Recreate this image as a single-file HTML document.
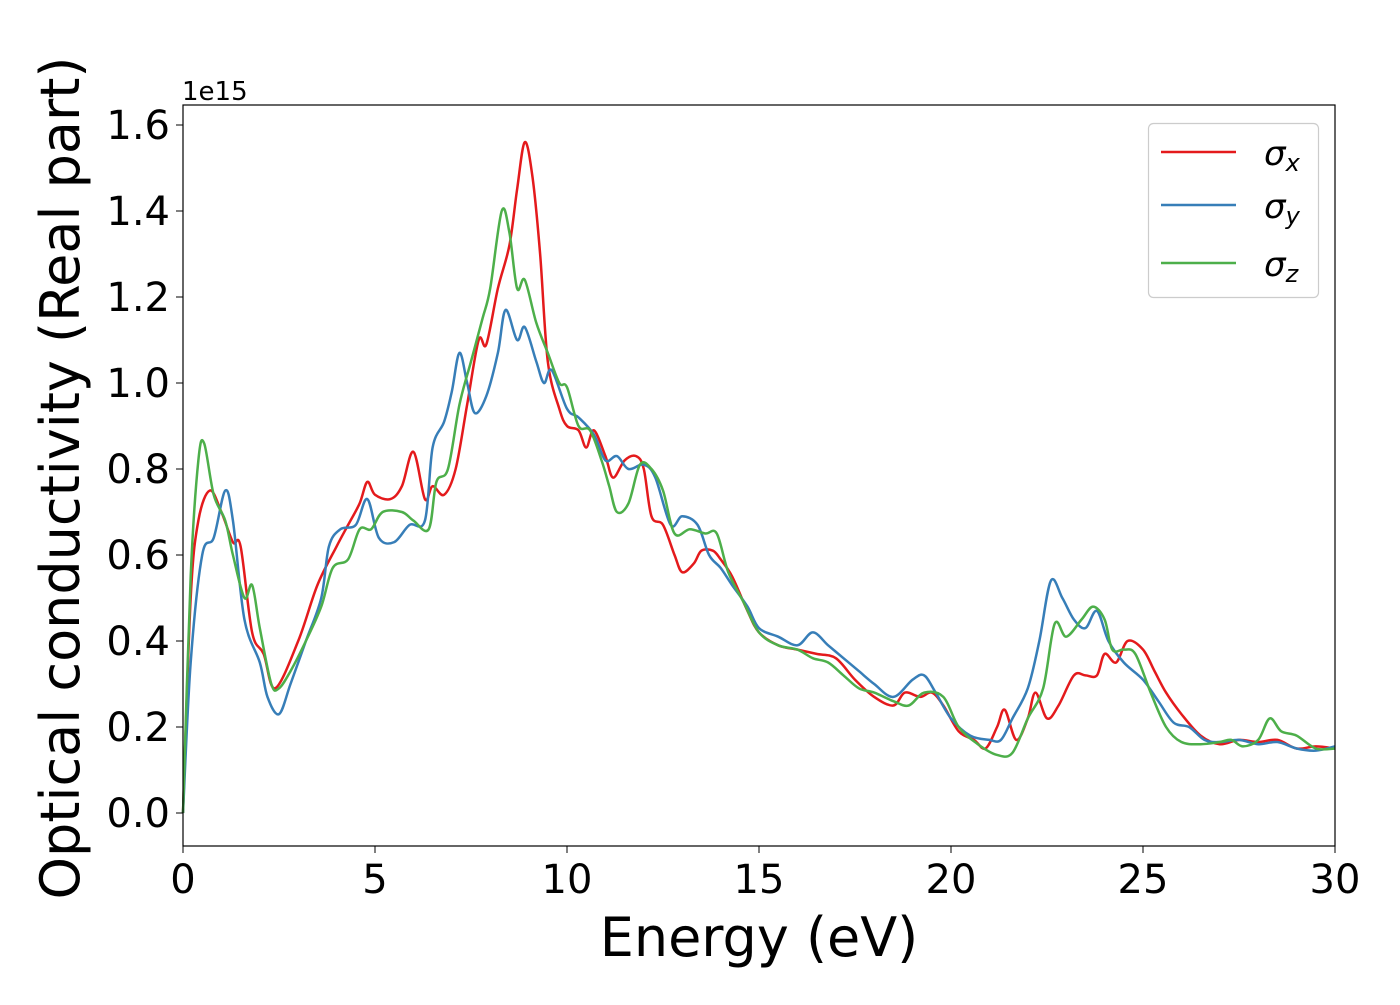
<!DOCTYPE html>
<html><head><meta charset="utf-8"><style>
html,body{margin:0;padding:0;background:#fff;}
svg text{font-family:"DejaVu Sans","Liberation Sans",sans-serif;fill:#000;}
</style></head><body>
<svg id="chart" width="1400" height="1000" xmlns="http://www.w3.org/2000/svg">
<rect width="1400" height="1000" fill="#fff"/>
<g id="plot"></g>
<rect x="183" y="105" width="1152" height="741" fill="none" stroke="#000" stroke-width="1.2"/>
<g id="xticks"></g>
<g id="yticks"></g>
<text x="182" y="100" font-size="26">1e15</text>
<text x="759" y="956" font-size="54" text-anchor="middle">Energy (eV)</text>
<text transform="translate(79,478) rotate(-90)" font-size="54" text-anchor="middle">Optical conductivity (Real part)</text>
<g>
<rect x="1148.5" y="123.5" width="170" height="174" rx="5" fill="#fff" stroke="#ccc" stroke-width="1.2"/>
<line x1="1161" y1="152" x2="1236" y2="152" stroke="#e41a1c" stroke-width="2.5"/>
<text x="1264" y="165" font-size="34" font-style="italic">σ<tspan font-size="24" dy="6">x</tspan></text>
<line x1="1161" y1="205" x2="1236" y2="205" stroke="#377eb8" stroke-width="2.5"/>
<text x="1264" y="218" font-size="34" font-style="italic">σ<tspan font-size="24" dy="6">y</tspan></text>
<line x1="1161" y1="263" x2="1236" y2="263" stroke="#4daf4a" stroke-width="2.5"/>
<text x="1264" y="276" font-size="34" font-style="italic">σ<tspan font-size="24" dy="6">z</tspan></text>
</g>
</svg>
<script>
const xTicks=[0,5,10,15,20,25,30];
const yTicks=[0.0,0.2,0.4,0.6,0.8,1.0,1.2,1.4,1.6];
const sxE=[0,0.2,0.4,0.7,1.0,1.3,1.5,1.8,2.1,2.4,3.0,3.5,4.0,4.3,4.6,4.8,5.0,5.4,5.7,6.0,6.3,6.5,6.8,7.1,7.4,7.7,7.9,8.2,8.5,8.7,8.9,9.1,9.3,9.5,9.8,10.0,10.3,10.5,10.7,11.0,11.2,11.5,11.8,12.0,12.2,12.5,12.8,13.0,13.3,13.5,13.8,14.0,14.3,14.7,15.0,15.5,16.0,16.5,17.0,17.5,18.0,18.5,18.8,19.2,19.5,19.8,20.2,20.6,20.9,21.2,21.4,21.7,22.0,22.2,22.5,22.8,23.2,23.5,23.8,24.0,24.3,24.6,25.0,25.3,25.6,26.0,26.5,27.0,27.5,28.0,28.5,29.0,29.5,30];
const sxV=[0,0.5,0.68,0.75,0.70,0.63,0.62,0.42,0.37,0.29,0.40,0.53,0.62,0.67,0.72,0.77,0.74,0.73,0.76,0.84,0.73,0.76,0.74,0.80,0.95,1.10,1.09,1.22,1.32,1.45,1.56,1.48,1.30,1.05,0.94,0.90,0.89,0.85,0.89,0.83,0.78,0.82,0.83,0.80,0.69,0.67,0.60,0.56,0.58,0.61,0.61,0.59,0.55,0.47,0.42,0.39,0.38,0.37,0.36,0.31,0.27,0.25,0.28,0.27,0.28,0.25,0.19,0.17,0.15,0.20,0.24,0.17,0.22,0.28,0.22,0.25,0.32,0.32,0.32,0.37,0.35,0.40,0.38,0.33,0.28,0.23,0.18,0.16,0.17,0.165,0.17,0.15,0.155,0.15];
const syE=[0,0.2,0.5,0.8,1.1,1.3,1.6,2.0,2.2,2.5,2.8,3.2,3.6,3.8,4.1,4.5,4.8,5.1,5.5,5.9,6.3,6.5,6.8,7.0,7.2,7.4,7.6,7.9,8.2,8.4,8.7,8.9,9.2,9.4,9.6,10.0,10.3,10.7,11.0,11.3,11.6,12.0,12.3,12.7,13.0,13.4,13.7,14.0,14.3,14.7,15.0,15.5,16.0,16.4,16.8,17.2,17.6,18.0,18.5,19.0,19.3,19.6,20.0,20.5,21.0,21.3,21.6,22.0,22.3,22.6,22.9,23.2,23.5,23.8,24.1,24.5,25.0,25.4,25.8,26.2,26.6,27.0,27.5,28.0,28.5,29.0,29.5,30];
const syV=[0,0.35,0.6,0.64,0.75,0.68,0.45,0.35,0.27,0.23,0.30,0.40,0.50,0.62,0.66,0.67,0.73,0.64,0.63,0.67,0.68,0.85,0.91,0.98,1.07,1.0,0.93,0.97,1.07,1.17,1.10,1.13,1.05,1.0,1.03,0.94,0.92,0.88,0.82,0.83,0.80,0.81,0.78,0.67,0.69,0.67,0.60,0.57,0.53,0.48,0.43,0.41,0.39,0.42,0.39,0.36,0.33,0.30,0.27,0.31,0.32,0.28,0.22,0.18,0.17,0.17,0.22,0.29,0.40,0.54,0.50,0.45,0.43,0.47,0.40,0.35,0.31,0.26,0.21,0.20,0.17,0.165,0.17,0.16,0.165,0.15,0.145,0.155];
const szE=[0,0.2,0.4,0.55,0.8,1.1,1.3,1.6,1.8,2.0,2.3,2.5,2.8,3.2,3.6,3.9,4.3,4.6,4.9,5.2,5.7,6.0,6.4,6.6,6.9,7.2,7.5,7.8,8.0,8.3,8.5,8.7,8.9,9.2,9.5,9.8,10.0,10.3,10.6,10.9,11.1,11.3,11.6,11.9,12.2,12.5,12.8,13.2,13.6,13.9,14.2,14.6,15.0,15.5,16.0,16.4,16.8,17.2,17.6,18.0,18.5,18.9,19.3,19.8,20.2,20.7,21.2,21.6,22.0,22.4,22.7,23.0,23.4,23.7,24.0,24.2,24.5,24.8,25.2,25.6,26.0,26.5,27.0,27.3,27.6,28.0,28.3,28.6,29.0,29.5,30];
const szV=[0,0.55,0.82,0.86,0.74,0.68,0.60,0.50,0.53,0.43,0.30,0.29,0.33,0.40,0.48,0.57,0.59,0.66,0.66,0.70,0.70,0.68,0.66,0.77,0.80,0.95,1.05,1.15,1.22,1.40,1.35,1.22,1.24,1.14,1.07,1.00,0.99,0.90,0.89,0.82,0.76,0.70,0.72,0.81,0.80,0.75,0.65,0.66,0.65,0.65,0.56,0.49,0.42,0.39,0.38,0.36,0.35,0.32,0.29,0.28,0.26,0.25,0.28,0.27,0.20,0.16,0.135,0.14,0.22,0.29,0.44,0.41,0.45,0.48,0.45,0.38,0.38,0.37,0.28,0.20,0.165,0.16,0.165,0.17,0.155,0.17,0.22,0.19,0.18,0.15,0.15];

const NS='http://www.w3.org/2000/svg';
const X=v=>183+v*(1152/30);
const Y=v=>813-v*430;
function path(xs,ys){
  const p=xs.map((x,i)=>[X(x),Y(ys[i])]);
  let d='M'+p[0][0]+','+p[0][1];
  for(let i=0;i<p.length-1;i++){
    const p0=p[i-1]||p[i],p1=p[i],p2=p[i+1],p3=p[i+2]||p2;
    const c1=[p1[0]+(p2[0]-p0[0])/6,p1[1]+(p2[1]-p0[1])/6];
    const c2=[p2[0]-(p3[0]-p1[0])/6,p2[1]-(p3[1]-p1[1])/6];
    d+=' C'+c1.join(',')+' '+c2.join(',')+' '+p2.join(',');
  }
  return d;
}
const plot=document.getElementById('plot');
[[sxE,sxV,'#e41a1c','series-sigma-x'],[syE,syV,'#377eb8','series-sigma-y'],[szE,szV,'#4daf4a','series-sigma-z']].forEach(s=>{
  const el=document.createElementNS(NS,'path');
  el.setAttribute('d',path(s[0],s[1]));
  el.setAttribute('fill','none');el.setAttribute('stroke',s[2]);el.setAttribute('stroke-width','2.5');
  
  
  plot.appendChild(el);
});
const xg=document.getElementById('xticks');
xTicks.forEach(t=>{
  const l=document.createElementNS(NS,'line');
  l.setAttribute('x1',X(t));l.setAttribute('x2',X(t));l.setAttribute('y1',846);l.setAttribute('y2',853);l.setAttribute('stroke','#000');
  
  
  xg.appendChild(l);
  const tx=document.createElementNS(NS,'text');
  tx.setAttribute('x',X(t));tx.setAttribute('y',893);tx.setAttribute('font-size','40');tx.setAttribute('text-anchor','middle');
  tx.textContent=t;
  
  
  xg.appendChild(tx);
});
const yg=document.getElementById('yticks');
yTicks.forEach(t=>{
  const l=document.createElementNS(NS,'line');
  l.setAttribute('x1',176);l.setAttribute('x2',183);l.setAttribute('y1',Y(t));l.setAttribute('y2',Y(t));l.setAttribute('stroke','#000');
  
  
  yg.appendChild(l);
  const tx=document.createElementNS(NS,'text');
  tx.setAttribute('x',170);tx.setAttribute('y',Y(t)+14);tx.setAttribute('font-size','40');tx.setAttribute('text-anchor','end');
  tx.textContent=t.toFixed(1);
  
  
  yg.appendChild(tx);
});
</script>
</body></html>
